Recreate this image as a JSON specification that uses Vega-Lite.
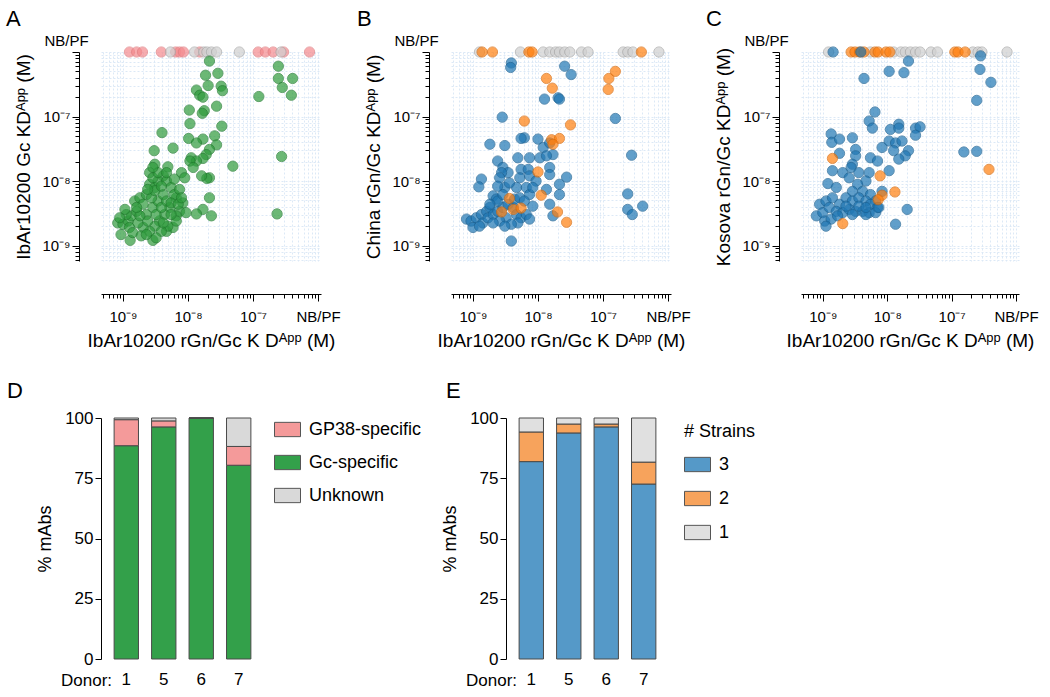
{
"$schema": "https://vega.github.io/schema/vega-lite/v6.json",
"padding": {"left": 6, "top": 8, "right": 5, "bottom": 5},
"background": "white",
"config": {
  "font": "Liberation Sans",
  "view": {"stroke": null},
  "axis": {"labelFont": "Liberation Sans", "titleFont": "Liberation Sans", "labelColor": "#000", "titleColor": "#000", "domainColor": "#000", "tickColor": "#000", "titleFontWeight": "normal", "domainWidth": 1, "tickWidth": 1},
  "title": {"font": "Liberation Sans", "fontWeight": "normal", "fontSize": 22, "color": "#000"},
  "legend": {"labelFont": "Liberation Sans", "titleFont": "Liberation Sans", "labelColor": "#000", "titleColor": "#000"}
},
"datasets": {
  "A": [
    {"x":-8.90,"y":-6,"g":"P"},{"x":-8.79,"y":-6,"g":"P"},{"x":-8.70,"y":-6,"g":"P"},{"x":-8.41,"y":-6,"g":"P"},{"x":-8.19,"y":-6,"g":"P"},{"x":-8.13,"y":-6,"g":"P"},{"x":-8.07,"y":-6,"g":"P"},{"x":-7.82,"y":-6,"g":"P"},{"x":-6.92,"y":-6,"g":"P"},{"x":-6.81,"y":-6,"g":"P"},{"x":-6.69,"y":-6,"g":"P"},{"x":-6.53,"y":-6,"g":"P"},{"x":-6.13,"y":-6,"g":"P"},
    {"x":-8.27,"y":-6,"g":"N"},{"x":-7.90,"y":-6,"g":"N"},{"x":-7.76,"y":-6,"g":"N"},{"x":-7.71,"y":-6,"g":"N"},{"x":-7.64,"y":-6,"g":"N"},{"x":-7.56,"y":-6,"g":"N"},{"x":-7.21,"y":-6,"g":"N"},{"x":-6.57,"y":-6,"g":"N"},
    {"x":-7.67,"y":-6.14,"g":"G"},{"x":-6.61,"y":-6.22,"g":"G"},{"x":-7.73,"y":-6.36,"g":"G"},{"x":-7.54,"y":-6.33,"g":"G"},{"x":-6.61,"y":-6.41,"g":"G"},{"x":-6.39,"y":-6.41,"g":"G"},{"x":-7.69,"y":-6.52,"g":"G"},{"x":-7.49,"y":-6.53,"g":"G"},{"x":-7.87,"y":-6.59,"g":"G"},{"x":-7.47,"y":-6.60,"g":"G"},{"x":-7.82,"y":-6.67,"g":"G"},{"x":-7.77,"y":-6.70,"g":"G"},{"x":-6.55,"y":-6.55,"g":"G"},{"x":-6.41,"y":-6.67,"g":"G"},{"x":-6.91,"y":-6.69,"g":"G"},{"x":-7.56,"y":-6.84,"g":"G"},{"x":-7.98,"y":-6.90,"g":"G"},{"x":-7.75,"y":-6.91,"g":"G"},{"x":-7.78,"y":-6.95,"g":"G"},{"x":-7.97,"y":-7.11,"g":"G"},{"x":-7.48,"y":-7.15,"g":"G"},{"x":-8.40,"y":-7.25,"g":"G"},{"x":-7.59,"y":-7.30,"g":"G"},{"x":-7.99,"y":-7.34,"g":"G"},{"x":-7.77,"y":-7.35,"g":"G"},{"x":-7.87,"y":-7.41,"g":"G"},{"x":-7.56,"y":-7.44,"g":"G"},{"x":-8.23,"y":-7.49,"g":"G"},{"x":-8.52,"y":-7.53,"g":"G"},{"x":-7.67,"y":-7.51,"g":"G"},{"x":-7.72,"y":-7.59,"g":"G"},{"x":-7.95,"y":-7.64,"g":"G"},{"x":-7.77,"y":-7.65,"g":"G"},{"x":-7.87,"y":-7.69,"g":"G"},{"x":-7.97,"y":-7.69,"g":"G"},{"x":-6.56,"y":-7.62,"g":"G"},{"x":-7.31,"y":-7.77,"g":"G"},{"x":-7.92,"y":-7.79,"g":"G"},{"x":-8.31,"y":-7.78,"g":"G"},{"x":-8.51,"y":-7.74,"g":"G"},{"x":-8.10,"y":-7.87,"g":"G"},{"x":-7.67,"y":-7.95,"g":"G"},{"x":-7.71,"y":-7.96,"g":"G"},{"x":-7.79,"y":-7.92,"g":"G"},{"x":-8.38,"y":-7.92,"g":"G"},{"x":-8.59,"y":-7.87,"g":"G"},{"x":-7.67,"y":-8.26,"g":"G"},{"x":-8.18,"y":-8.26,"g":"G"},{"x":-7.77,"y":-8.44,"g":"G"},{"x":-7.87,"y":-8.51,"g":"G"},{"x":-7.64,"y":-8.54,"g":"G"},{"x":-6.63,"y":-8.51,"g":"G"},
    {"x":-9.08,"y":-8.65,"g":"G"},{"x":-9.00,"y":-8.67,"g":"G"},{"x":-8.92,"y":-8.62,"g":"G"},{"x":-8.87,"y":-8.54,"g":"G"},{"x":-8.79,"y":-8.47,"g":"G"},{"x":-8.82,"y":-8.31,"g":"G"},{"x":-8.74,"y":-8.26,"g":"G"},{"x":-8.64,"y":-8.21,"g":"G"},{"x":-8.59,"y":-8.05,"g":"G"},{"x":-8.51,"y":-8.10,"g":"G"},{"x":-8.46,"y":-8.00,"g":"G"},{"x":-8.54,"y":-7.95,"g":"G"},{"x":-8.33,"y":-8.00,"g":"G"},{"x":-8.26,"y":-8.10,"g":"G"},{"x":-8.21,"y":-8.21,"g":"G"},{"x":-8.13,"y":-8.13,"g":"G"},{"x":-8.05,"y":-7.95,"g":"G"},{"x":-8.08,"y":-8.34,"g":"G"},{"x":-8.13,"y":-8.47,"g":"G"},{"x":-8.03,"y":-8.49,"g":"G"},{"x":-8.18,"y":-8.54,"g":"G"},{"x":-8.28,"y":-8.41,"g":"G"},{"x":-8.36,"y":-8.52,"g":"G"},{"x":-8.44,"y":-8.62,"g":"G"},{"x":-8.51,"y":-8.70,"g":"G"},{"x":-8.59,"y":-8.78,"g":"G"},{"x":-8.69,"y":-8.72,"g":"G"},{"x":-8.77,"y":-8.65,"g":"G"},{"x":-8.90,"y":-8.72,"g":"G"},{"x":-9.03,"y":-8.83,"g":"G"},{"x":-8.89,"y":-8.92,"g":"G"},{"x":-8.54,"y":-8.92,"g":"G"},{"x":-8.33,"y":-8.78,"g":"G"},{"x":-8.23,"y":-8.72,"g":"G"},{"x":-8.64,"y":-8.52,"g":"G"},{"x":-8.54,"y":-8.41,"g":"G"},{"x":-8.46,"y":-8.31,"g":"G"},{"x":-8.38,"y":-8.21,"g":"G"},{"x":-8.69,"y":-8.36,"g":"G"},{"x":-8.95,"y":-8.52,"g":"G"},{"x":-9.05,"y":-8.57,"g":"G"},{"x":-8.85,"y":-8.80,"g":"G"},{"x":-8.72,"y":-8.85,"g":"G"},{"x":-8.62,"y":-8.62,"g":"G"},{"x":-8.49,"y":-8.52,"g":"G"},{"x":-8.41,"y":-8.41,"g":"G"},{"x":-8.33,"y":-8.31,"g":"G"},{"x":-8.26,"y":-8.34,"g":"G"},{"x":-8.15,"y":-8.36,"g":"G"},{"x":-8.56,"y":-8.26,"g":"G"},{"x":-8.51,"y":-8.15,"g":"G"},{"x":-8.62,"y":-8.13,"g":"G"},{"x":-8.46,"y":-7.87,"g":"G"},{"x":-8.54,"y":-7.79,"g":"G"},{"x":-8.31,"y":-8.70,"g":"G"},{"x":-8.41,"y":-8.78,"g":"G"},{"x":-8.74,"y":-8.54,"g":"G"},{"x":-8.97,"y":-8.44,"g":"G"},{"x":-8.79,"y":-8.41,"g":"G"},{"x":-8.41,"y":-8.08,"g":"G"},{"x":-8.33,"y":-7.87,"g":"G"},{"x":-8.21,"y":-7.97,"g":"G"},{"x":-8.10,"y":-8.26,"g":"G"},{"x":-8.38,"y":-8.65,"g":"G"},{"x":-8.49,"y":-8.88,"g":"G"},{"x":-8.18,"y":-8.62,"g":"G"},{"x":-8.26,"y":-8.52,"g":"G"},{"x":-8.64,"y":-8.83,"g":"G"}
  ],
  "B": [
    {"x":-8.90,"y":-6,"g":"N"},{"x":-8.27,"y":-6,"g":"N"},{"x":-7.92,"y":-6,"g":"N"},{"x":-7.82,"y":-6,"g":"N"},{"x":-7.73,"y":-6,"g":"N"},{"x":-7.67,"y":-6,"g":"N"},{"x":-7.59,"y":-6,"g":"N"},{"x":-7.51,"y":-6,"g":"N"},{"x":-7.33,"y":-6,"g":"N"},{"x":-7.23,"y":-6,"g":"N"},{"x":-6.69,"y":-6,"g":"N"},{"x":-6.62,"y":-6,"g":"N"},{"x":-6.54,"y":-6,"g":"N"},{"x":-6.14,"y":-6,"g":"N"},
    {"x":-8.86,"y":-6,"g":"O"},{"x":-8.70,"y":-6,"g":"O"},{"x":-8.14,"y":-6,"g":"O"},{"x":-8.09,"y":-6,"g":"O"},{"x":-6.41,"y":-6,"g":"O"},
    {"x":-8.41,"y":-6.17,"g":"B"},{"x":-8.42,"y":-6.24,"g":"B"},{"x":-7.59,"y":-6.22,"g":"B"},{"x":-7.49,"y":-6.35,"g":"B"},{"x":-7.90,"y":-6.73,"g":"B"},{"x":-7.69,"y":-6.71,"g":"B"},{"x":-7.67,"y":-6.73,"g":"B"},{"x":-8.55,"y":-7.01,"g":"B"},{"x":-6.81,"y":-7.03,"g":"B"},{"x":-8.21,"y":-7.33,"g":"B"},{"x":-8.26,"y":-7.34,"g":"B"},{"x":-8.74,"y":-7.43,"g":"B"},{"x":-8.51,"y":-7.45,"g":"B"},{"x":-8.00,"y":-7.35,"g":"B"},{"x":-7.92,"y":-7.48,"g":"B"},{"x":-7.82,"y":-7.41,"g":"B"},{"x":-7.77,"y":-7.59,"g":"B"},{"x":-6.56,"y":-7.60,"g":"B"},{"x":-8.31,"y":-7.64,"g":"B"},{"x":-8.13,"y":-7.64,"g":"B"},{"x":-7.97,"y":-7.64,"g":"B"},{"x":-7.87,"y":-7.61,"g":"B"},{"x":-8.62,"y":-7.69,"g":"B"},{"x":-8.54,"y":-7.79,"g":"B"},{"x":-8.46,"y":-7.87,"g":"B"},{"x":-8.56,"y":-7.87,"g":"B"},{"x":-8.26,"y":-7.82,"g":"B"},{"x":-8.15,"y":-7.82,"g":"B"},{"x":-7.82,"y":-7.79,"g":"B"},{"x":-7.82,"y":-7.90,"g":"B"},{"x":-7.56,"y":-7.94,"g":"B"},{"x":-8.87,"y":-7.97,"g":"B"},{"x":-8.91,"y":-8.09,"g":"B"},{"x":-8.59,"y":-7.95,"g":"B"},{"x":-8.28,"y":-7.95,"g":"B"},{"x":-8.13,"y":-7.92,"g":"B"},{"x":-7.67,"y":-8.05,"g":"B"},{"x":-8.51,"y":-8.10,"g":"B"},{"x":-8.33,"y":-8.10,"g":"B"},{"x":-8.18,"y":-8.10,"g":"B"},{"x":-7.87,"y":-8.13,"g":"B"},{"x":-7.67,"y":-8.21,"g":"B"},{"x":-8.13,"y":-8.21,"g":"B"},{"x":-8.69,"y":-8.23,"g":"B"},{"x":-8.64,"y":-8.28,"g":"B"},{"x":-6.62,"y":-8.20,"g":"B"},{"x":-7.82,"y":-8.36,"g":"B"},{"x":-7.77,"y":-8.54,"g":"B"},{"x":-6.62,"y":-8.44,"g":"B"},{"x":-6.55,"y":-8.52,"g":"B"},{"x":-6.39,"y":-8.39,"g":"B"},{"x":-8.41,"y":-8.93,"g":"B"},{"x":-9.10,"y":-8.59,"g":"B"},{"x":-9.03,"y":-8.62,"g":"B"},{"x":-8.95,"y":-8.57,"g":"B"},{"x":-8.87,"y":-8.52,"g":"B"},{"x":-8.79,"y":-8.47,"g":"B"},{"x":-8.74,"y":-8.41,"g":"B"},{"x":-8.85,"y":-8.65,"g":"B"},{"x":-9.00,"y":-8.72,"g":"B"},{"x":-8.90,"y":-8.70,"g":"B"},{"x":-8.77,"y":-8.57,"g":"B"},{"x":-8.69,"y":-8.52,"g":"B"},{"x":-8.62,"y":-8.47,"g":"B"},{"x":-8.54,"y":-8.41,"g":"B"},{"x":-8.46,"y":-8.36,"g":"B"},{"x":-8.38,"y":-8.41,"g":"B"},{"x":-8.33,"y":-8.52,"g":"B"},{"x":-8.26,"y":-8.57,"g":"B"},{"x":-8.18,"y":-8.52,"g":"B"},{"x":-8.13,"y":-8.59,"g":"B"},{"x":-8.08,"y":-8.39,"g":"B"},{"x":-8.49,"y":-8.57,"g":"B"},{"x":-8.59,"y":-8.62,"g":"B"},{"x":-8.69,"y":-8.65,"g":"B"},{"x":-8.31,"y":-8.65,"g":"B"},{"x":-8.41,"y":-8.67,"g":"B"},{"x":-8.51,"y":-8.70,"g":"B"},{"x":-8.62,"y":-8.31,"g":"B"},{"x":-8.54,"y":-8.21,"g":"B"},{"x":-8.36,"y":-8.28,"g":"B"},{"x":-8.28,"y":-8.26,"g":"B"},{"x":-8.21,"y":-8.31,"g":"B"},{"x":-8.03,"y":-8.00,"g":"B"},{"x":-8.08,"y":-8.10,"g":"B"},{"x":-8.74,"y":-8.36,"g":"B"},{"x":-8.44,"y":-8.03,"g":"B"},{"x":-8.62,"y":-8.08,"g":"B"},
    {"x":-7.87,"y":-6.41,"g":"O"},{"x":-7.78,"y":-6.56,"g":"O"},{"x":-6.81,"y":-6.30,"g":"O"},{"x":-6.91,"y":-6.41,"g":"O"},{"x":-6.92,"y":-6.58,"g":"O"},{"x":-8.21,"y":-7.07,"g":"O"},{"x":-7.50,"y":-7.13,"g":"O"},{"x":-7.79,"y":-7.36,"g":"O"},{"x":-7.67,"y":-7.34,"g":"O"},{"x":-7.77,"y":-7.43,"g":"O"},{"x":-8.00,"y":-7.86,"g":"O"},{"x":-7.95,"y":-8.22,"g":"O"},{"x":-8.44,"y":-8.27,"g":"O"},{"x":-8.56,"y":-8.48,"g":"O"},{"x":-8.38,"y":-8.44,"g":"O"},{"x":-8.26,"y":-8.42,"g":"O"},{"x":-7.70,"y":-8.48,"g":"O"},{"x":-7.56,"y":-8.64,"g":"O"}
  ],
  "C": [
    {"x":-8.91,"y":-6,"g":"N"},{"x":-8.26,"y":-6,"g":"N"},{"x":-7.90,"y":-6,"g":"N"},{"x":-7.79,"y":-6,"g":"N"},{"x":-7.72,"y":-6,"g":"N"},{"x":-7.64,"y":-6,"g":"N"},{"x":-7.56,"y":-6,"g":"N"},{"x":-7.49,"y":-6,"g":"N"},{"x":-7.32,"y":-6,"g":"N"},{"x":-7.22,"y":-6,"g":"N"},{"x":-6.67,"y":-6,"g":"N"},{"x":-6.59,"y":-6,"g":"N"},{"x":-6.53,"y":-6,"g":"N"},{"x":-6.14,"y":-6,"g":"N"},
    {"x":-8.56,"y":-6,"g":"O"},{"x":-8.50,"y":-6,"g":"O"},{"x":-8.43,"y":-6,"g":"O"},{"x":-8.36,"y":-6,"g":"O"},{"x":-8.19,"y":-6,"g":"O"},{"x":-8.14,"y":-6,"g":"O"},{"x":-8.02,"y":-6,"g":"O"},{"x":-7.96,"y":-6,"g":"O"},{"x":-6.95,"y":-6,"g":"O"},{"x":-6.90,"y":-6,"g":"O"},{"x":-6.79,"y":-6,"g":"O"},
    {"x":-8.84,"y":-6,"g":"B"},{"x":-8.41,"y":-6,"g":"B"},
    {"x":-7.67,"y":-6.14,"g":"B"},{"x":-6.55,"y":-6.06,"g":"B"},{"x":-7.97,"y":-6.30,"g":"B"},{"x":-7.74,"y":-6.32,"g":"B"},{"x":-8.36,"y":-6.41,"g":"B"},{"x":-6.56,"y":-6.27,"g":"B"},{"x":-6.39,"y":-6.47,"g":"B"},{"x":-6.61,"y":-6.75,"g":"B"},{"x":-8.19,"y":-6.93,"g":"B"},{"x":-8.28,"y":-7.07,"g":"B"},{"x":-8.23,"y":-7.18,"g":"B"},{"x":-7.82,"y":-7.12,"g":"B"},{"x":-7.95,"y":-7.20,"g":"B"},{"x":-7.82,"y":-7.18,"g":"B"},{"x":-7.56,"y":-7.18,"g":"B"},{"x":-7.49,"y":-7.16,"g":"B"},{"x":-7.56,"y":-7.29,"g":"B"},{"x":-8.87,"y":-7.27,"g":"B"},{"x":-8.86,"y":-7.40,"g":"B"},{"x":-8.74,"y":-7.35,"g":"B"},{"x":-8.54,"y":-7.33,"g":"B"},{"x":-8.08,"y":-7.48,"g":"B"},{"x":-7.97,"y":-7.38,"g":"B"},{"x":-7.87,"y":-7.41,"g":"B"},{"x":-7.77,"y":-7.38,"g":"B"},{"x":-7.90,"y":-7.53,"g":"B"},{"x":-7.67,"y":-7.53,"g":"B"},{"x":-7.72,"y":-7.61,"g":"B"},{"x":-7.82,"y":-7.66,"g":"B"},{"x":-6.81,"y":-7.55,"g":"B"},{"x":-6.61,"y":-7.54,"g":"B"},{"x":-8.74,"y":-7.57,"g":"B"},{"x":-8.49,"y":-7.51,"g":"B"},{"x":-8.49,"y":-7.61,"g":"B"},{"x":-8.26,"y":-7.64,"g":"B"},{"x":-8.15,"y":-7.69,"g":"B"},{"x":-8.54,"y":-7.74,"g":"B"},{"x":-7.97,"y":-7.84,"g":"B"},{"x":-8.85,"y":-7.84,"g":"B"},{"x":-8.69,"y":-7.87,"g":"B"},{"x":-8.56,"y":-7.79,"g":"B"},{"x":-8.44,"y":-7.87,"g":"B"},{"x":-8.28,"y":-7.87,"g":"B"},{"x":-8.92,"y":-8.04,"g":"B"},{"x":-8.79,"y":-8.10,"g":"B"},{"x":-8.59,"y":-7.95,"g":"B"},{"x":-8.33,"y":-8.00,"g":"B"},{"x":-8.46,"y":-8.05,"g":"B"},{"x":-8.54,"y":-8.16,"g":"B"},{"x":-8.38,"y":-8.16,"g":"B"},{"x":-8.26,"y":-8.21,"g":"B"},{"x":-8.08,"y":-8.16,"g":"B"},{"x":-8.18,"y":-8.31,"g":"B"},{"x":-9.05,"y":-8.36,"g":"B"},{"x":-8.95,"y":-8.31,"g":"B"},{"x":-8.85,"y":-8.26,"g":"B"},{"x":-8.74,"y":-8.36,"g":"B"},{"x":-8.64,"y":-8.26,"g":"B"},{"x":-8.54,"y":-8.31,"g":"B"},{"x":-8.44,"y":-8.26,"g":"B"},{"x":-8.33,"y":-8.31,"g":"B"},{"x":-8.26,"y":-8.36,"g":"B"},{"x":-8.15,"y":-8.41,"g":"B"},{"x":-9.10,"y":-8.54,"g":"B"},{"x":-9.00,"y":-8.49,"g":"B"},{"x":-8.90,"y":-8.41,"g":"B"},{"x":-8.79,"y":-8.47,"g":"B"},{"x":-8.69,"y":-8.49,"g":"B"},{"x":-8.59,"y":-8.44,"g":"B"},{"x":-8.49,"y":-8.47,"g":"B"},{"x":-8.38,"y":-8.47,"g":"B"},{"x":-8.28,"y":-8.49,"g":"B"},{"x":-8.18,"y":-8.49,"g":"B"},{"x":-8.97,"y":-8.62,"g":"B"},{"x":-8.87,"y":-8.59,"g":"B"},{"x":-8.95,"y":-8.70,"g":"B"},{"x":-8.77,"y":-8.54,"g":"B"},{"x":-8.54,"y":-8.52,"g":"B"},{"x":-8.33,"y":-8.52,"g":"B"},{"x":-7.69,"y":-8.44,"g":"B"},{"x":-7.87,"y":-8.67,"g":"B"},{"x":-8.64,"y":-8.39,"g":"B"},{"x":-8.44,"y":-8.39,"g":"B"},{"x":-8.33,"y":-8.41,"g":"B"},{"x":-8.13,"y":-8.41,"g":"B"},
    {"x":-8.85,"y":-7.65,"g":"O"},{"x":-8.11,"y":-7.92,"g":"O"},{"x":-7.88,"y":-8.17,"g":"O"},{"x":-8.08,"y":-8.22,"g":"O"},{"x":-8.14,"y":-8.29,"g":"O"},{"x":-8.69,"y":-8.66,"g":"O"},{"x":-6.42,"y":-7.82,"g":"O"}
  ],
  "D": [
    {"donor":"1","spec":"Gc-specific","pct":88.5,"ord":1},{"donor":"1","spec":"GP38-specific","pct":10.8,"ord":2},{"donor":"1","spec":"Unknown","pct":0.7,"ord":3},
    {"donor":"5","spec":"Gc-specific","pct":96.3,"ord":1},{"donor":"5","spec":"GP38-specific","pct":2.5,"ord":2},{"donor":"5","spec":"Unknown","pct":1.2,"ord":3},
    {"donor":"6","spec":"Gc-specific","pct":100,"ord":1},{"donor":"6","spec":"GP38-specific","pct":0,"ord":2},{"donor":"6","spec":"Unknown","pct":0,"ord":3},
    {"donor":"7","spec":"Gc-specific","pct":80.4,"ord":1},{"donor":"7","spec":"GP38-specific","pct":7.8,"ord":2},{"donor":"7","spec":"Unknown","pct":11.8,"ord":3}
  ],
  "E": [
    {"donor":"1","strains":"3","pct":81.9,"ord":1},{"donor":"1","strains":"2","pct":12.3,"ord":2},{"donor":"1","strains":"1","pct":5.8,"ord":3},
    {"donor":"5","strains":"3","pct":93.8,"ord":1},{"donor":"5","strains":"2","pct":3.7,"ord":2},{"donor":"5","strains":"1","pct":2.5,"ord":3},
    {"donor":"6","strains":"3","pct":96.3,"ord":1},{"donor":"6","strains":"2","pct":1.2,"ord":2},{"donor":"6","strains":"1","pct":2.5,"ord":3},
    {"donor":"7","strains":"3","pct":72.6,"ord":1},{"donor":"7","strains":"2","pct":9.1,"ord":2},{"donor":"7","strains":"1","pct":18.3,"ord":3}
  ]
},
"vconcat": [
  {
    "hconcat": [
      {
        "width": 220, "height": 209,
        "data": {"name": "A"},
        "title": {"text": "A", "anchor": "start", "frame": "group", "dx": -95, "offset": 2},
        "mark": {"type": "circle", "size": 105, "opacity": 0.7, "strokeWidth": 1},
        "encoding": {
          "x": {"field": "x", "type": "quantitative", "scale": {"domain": [-9.338, -5.954], "nice": false, "zero": false},
            "axis": {"title": "IbAr10200 rGn/Gc K Dᴬᵖᵖ (M)", "titleFontSize": 19, "titlePadding": 7, "offset": 33,
              "values": [-9.301,-9.222,-9.155,-9.097,-9.046,-9,-8.699,-8.523,-8.398,-8.301,-8.222,-8.155,-8.097,-8.046,-8,-7.699,-7.523,-7.398,-7.301,-7.222,-7.155,-7.097,-7.046,-7,-6.699,-6.523,-6.398,-6.301,-6.222,-6.155,-6.097,-6.046,-6],
              "grid": true, "gridColor": "#dce9f6", "gridDash": [2, 2],
              "tickSize": {"condition": {"test": "datum.value == round(datum.value)", "value": 7}, "value": 4},
              "labelExpr": "datum.value == -9 ? '10⁻⁹' : datum.value == -8 ? '10⁻⁸' : datum.value == -7 ? '10⁻⁷' : datum.value == -6 ? 'NB/PF' : ''",
              "labelFontSize": 15, "labelPadding": 8, "labelOverlap": false, "labelFlush": false}},
          "y": {"field": "y", "type": "quantitative", "scale": {"domain": [-9.24, -6], "nice": false, "zero": false},
            "axis": {"title": "IbAr10200 Gc KDᴬᵖᵖ (M)", "titleFontSize": 19, "titlePadding": 8, "offset": 22,
              "values": [-9.222,-9.155,-9.097,-9.046,-9,-8.699,-8.523,-8.398,-8.301,-8.222,-8.155,-8.097,-8.046,-8,-7.699,-7.523,-7.398,-7.301,-7.222,-7.155,-7.097,-7.046,-7,-6.699,-6.523,-6.398,-6.301,-6.222,-6.155,-6.097,-6.046,-6],
              "grid": true, "gridColor": "#dce9f6", "gridDash": [2, 2],
              "tickSize": {"condition": {"test": "datum.value == round(datum.value)", "value": 7}, "value": 4},
              "labelExpr": "datum.value == -9 ? '10⁻⁹' : datum.value == -8 ? '10⁻⁸' : datum.value == -7 ? '10⁻⁷' : datum.value == -6 ? 'NB/PF' : ''",
              "labelAlign": {"condition": {"test": "datum.value == -6", "value": "center"}, "value": "right"},
              "labelBaseline": {"condition": {"test": "datum.value == -6", "value": "bottom"}, "value": "middle"},
              "labelOffset": {"condition": {"test": "datum.value == -6", "value": -4}, "value": 0},
              "labelPadding": {"condition": {"test": "datum.value == -6", "value": 6}, "value": 2},
              "labelFontSize": 15, "labelOverlap": false, "labelFlush": false}},
          "fill": {"field": "g", "type": "nominal", "scale": {"domain": ["G", "P", "N"], "range": ["#2e9b3c", "#f48a8e", "#d0d0d0"]}, "legend": null},
          "stroke": {"field": "g", "type": "nominal", "scale": {"domain": ["G", "P", "N"], "range": ["#1f7a2c", "#e07a7e", "#a8a8a8"]}, "legend": null}
        }
      },
      {
        "width": 220, "height": 209,
        "data": {"name": "B"},
        "title": {"text": "B", "anchor": "start", "frame": "group", "dx": -94, "offset": 2},
        "mark": {"type": "circle", "size": 105, "opacity": 0.7, "strokeWidth": 1},
        "encoding": {
          "x": {"field": "x", "type": "quantitative", "scale": {"domain": [-9.338, -5.954], "nice": false, "zero": false},
            "axis": {"title": "IbAr10200 rGn/Gc K Dᴬᵖᵖ (M)", "titleFontSize": 19, "titlePadding": 7, "offset": 33,
              "values": [-9.301,-9.222,-9.155,-9.097,-9.046,-9,-8.699,-8.523,-8.398,-8.301,-8.222,-8.155,-8.097,-8.046,-8,-7.699,-7.523,-7.398,-7.301,-7.222,-7.155,-7.097,-7.046,-7,-6.699,-6.523,-6.398,-6.301,-6.222,-6.155,-6.097,-6.046,-6],
              "grid": true, "gridColor": "#dce9f6", "gridDash": [2, 2],
              "tickSize": {"condition": {"test": "datum.value == round(datum.value)", "value": 7}, "value": 4},
              "labelExpr": "datum.value == -9 ? '10⁻⁹' : datum.value == -8 ? '10⁻⁸' : datum.value == -7 ? '10⁻⁷' : datum.value == -6 ? 'NB/PF' : ''",
              "labelFontSize": 15, "labelPadding": 8, "labelOverlap": false, "labelFlush": false}},
          "y": {"field": "y", "type": "quantitative", "scale": {"domain": [-9.24, -6], "nice": false, "zero": false},
            "axis": {"title": "China rGn/Gc KDᴬᵖᵖ (M)", "titleFontSize": 19, "titlePadding": 8, "offset": 22,
              "values": [-9.222,-9.155,-9.097,-9.046,-9,-8.699,-8.523,-8.398,-8.301,-8.222,-8.155,-8.097,-8.046,-8,-7.699,-7.523,-7.398,-7.301,-7.222,-7.155,-7.097,-7.046,-7,-6.699,-6.523,-6.398,-6.301,-6.222,-6.155,-6.097,-6.046,-6],
              "grid": true, "gridColor": "#dce9f6", "gridDash": [2, 2],
              "tickSize": {"condition": {"test": "datum.value == round(datum.value)", "value": 7}, "value": 4},
              "labelExpr": "datum.value == -9 ? '10⁻⁹' : datum.value == -8 ? '10⁻⁸' : datum.value == -7 ? '10⁻⁷' : datum.value == -6 ? 'NB/PF' : ''",
              "labelAlign": {"condition": {"test": "datum.value == -6", "value": "center"}, "value": "right"},
              "labelBaseline": {"condition": {"test": "datum.value == -6", "value": "bottom"}, "value": "middle"},
              "labelOffset": {"condition": {"test": "datum.value == -6", "value": -4}, "value": 0},
              "labelPadding": {"condition": {"test": "datum.value == -6", "value": 6}, "value": 2},
              "labelFontSize": 15, "labelOverlap": false, "labelFlush": false}},
          "fill": {"field": "g", "type": "nominal", "scale": {"domain": ["B", "O", "N"], "range": ["#1f77b4", "#ff7f0e", "#d0d0d0"]}, "legend": null},
          "stroke": {"field": "g", "type": "nominal", "scale": {"domain": ["B", "O", "N"], "range": ["#185f91", "#d96a0a", "#a8a8a8"]}, "legend": null}
        }
      },
      {
        "width": 218, "height": 209,
        "data": {"name": "C"},
        "title": {"text": "C", "anchor": "start", "frame": "group", "dx": -95, "offset": 2},
        "mark": {"type": "circle", "size": 105, "opacity": 0.7, "strokeWidth": 1},
        "encoding": {
          "x": {"field": "x", "type": "quantitative", "scale": {"domain": [-9.338, -5.954], "nice": false, "zero": false},
            "axis": {"title": "IbAr10200 rGn/Gc K Dᴬᵖᵖ (M)", "titleFontSize": 19, "titlePadding": 7, "offset": 33,
              "values": [-9.301,-9.222,-9.155,-9.097,-9.046,-9,-8.699,-8.523,-8.398,-8.301,-8.222,-8.155,-8.097,-8.046,-8,-7.699,-7.523,-7.398,-7.301,-7.222,-7.155,-7.097,-7.046,-7,-6.699,-6.523,-6.398,-6.301,-6.222,-6.155,-6.097,-6.046,-6],
              "grid": true, "gridColor": "#dce9f6", "gridDash": [2, 2],
              "tickSize": {"condition": {"test": "datum.value == round(datum.value)", "value": 7}, "value": 4},
              "labelExpr": "datum.value == -9 ? '10⁻⁹' : datum.value == -8 ? '10⁻⁸' : datum.value == -7 ? '10⁻⁷' : datum.value == -6 ? 'NB/PF' : ''",
              "labelFontSize": 15, "labelPadding": 8, "labelOverlap": false, "labelFlush": false}},
          "y": {"field": "y", "type": "quantitative", "scale": {"domain": [-9.24, -6], "nice": false, "zero": false},
            "axis": {"title": "Kosova rGn/Gc KDᴬᵖᵖ (M)", "titleFontSize": 19, "titlePadding": 8, "offset": 22,
              "values": [-9.222,-9.155,-9.097,-9.046,-9,-8.699,-8.523,-8.398,-8.301,-8.222,-8.155,-8.097,-8.046,-8,-7.699,-7.523,-7.398,-7.301,-7.222,-7.155,-7.097,-7.046,-7,-6.699,-6.523,-6.398,-6.301,-6.222,-6.155,-6.097,-6.046,-6],
              "grid": true, "gridColor": "#dce9f6", "gridDash": [2, 2],
              "tickSize": {"condition": {"test": "datum.value == round(datum.value)", "value": 7}, "value": 4},
              "labelExpr": "datum.value == -9 ? '10⁻⁹' : datum.value == -8 ? '10⁻⁸' : datum.value == -7 ? '10⁻⁷' : datum.value == -6 ? 'NB/PF' : ''",
              "labelAlign": {"condition": {"test": "datum.value == -6", "value": "center"}, "value": "right"},
              "labelBaseline": {"condition": {"test": "datum.value == -6", "value": "bottom"}, "value": "middle"},
              "labelOffset": {"condition": {"test": "datum.value == -6", "value": -4}, "value": 0},
              "labelPadding": {"condition": {"test": "datum.value == -6", "value": 6}, "value": 2},
              "labelFontSize": 15, "labelOverlap": false, "labelFlush": false}},
          "fill": {"field": "g", "type": "nominal", "scale": {"domain": ["B", "O", "N"], "range": ["#1f77b4", "#ff7f0e", "#d0d0d0"]}, "legend": null},
          "stroke": {"field": "g", "type": "nominal", "scale": {"domain": ["B", "O", "N"], "range": ["#185f91", "#d96a0a", "#a8a8a8"]}, "legend": null}
        }
      }
    ],
    "spacing": 130,
    "bounds": "flush",
    "resolve": {"scale": {"fill": "independent", "stroke": "independent", "color": "independent"}}
  },
  {
    "hconcat": [
      {
        "width": 163, "height": 241,
        "data": {"name": "D"},
        "title": {"text": "D", "anchor": "start", "frame": "group", "dx": -94, "offset": 6},
        "mark": {"type": "bar", "stroke": "#4a4a4a", "strokeWidth": 1},
        "encoding": {
          "x": {"field": "donor", "type": "ordinal", "scale": {"paddingInner": 0.35, "paddingOuter": 0.35},
            "axis": {"title": "Donor:", "labelAngle": 0, "domain": false, "ticks": false, "labelPadding": 12, "labelFontSize": 17,
              "titleFontSize": 17, "titleX": -15, "titleY": 21, "titleAlign": "center", "titleBaseline": "middle"}},
          "y": {"field": "pct", "type": "quantitative", "stack": "zero", "scale": {"domain": [0, 100], "nice": false},
            "axis": {"title": "% mAbs", "values": [0, 25, 50, 75, 100], "grid": false, "tickSize": 6, "labelFontSize": 17, "labelPadding": 2, "titleFontSize": 18, "titlePadding": 10}},
          "color": {"field": "spec", "type": "nominal",
            "scale": {"domain": ["GP38-specific", "Gc-specific", "Unknown"], "range": ["#f49a9a", "#33a04a", "#d9d9d9"]},
            "legend": {"orient": "none", "legendX": 173, "legendY": -2, "title": null, "padding": 0,
              "symbolType": "M-1,-0.55H1V0.55H-1Z", "symbolSize": 676, "symbolStrokeColor": "#555", "symbolStrokeWidth": 1, "symbolOpacity": 1,
              "labelFontSize": 18, "labelOffset": 8, "rowPadding": 10}},
          "order": {"field": "ord", "type": "quantitative"}
        }
      },
      {
        "width": 163, "height": 241,
        "data": {"name": "E"},
        "title": {"text": "E", "anchor": "start", "frame": "group", "dx": -60, "offset": 6},
        "mark": {"type": "bar", "stroke": "#4a4a4a", "strokeWidth": 1},
        "encoding": {
          "x": {"field": "donor", "type": "ordinal", "scale": {"paddingInner": 0.35, "paddingOuter": 0.35},
            "axis": {"title": "Donor:", "labelAngle": 0, "domain": false, "ticks": false, "labelPadding": 12, "labelFontSize": 17,
              "titleFontSize": 17, "titleX": -15, "titleY": 21, "titleAlign": "center", "titleBaseline": "middle"}},
          "y": {"field": "pct", "type": "quantitative", "stack": "zero", "scale": {"domain": [0, 100], "nice": false},
            "axis": {"title": "% mAbs", "values": [0, 25, 50, 75, 100], "grid": false, "tickSize": 6, "labelFontSize": 17, "labelPadding": 2, "titleFontSize": 18, "titlePadding": 10}},
          "color": {"field": "strains", "type": "nominal",
            "scale": {"domain": ["3", "2", "1"], "range": ["#5599c8", "#f7a35c", "#e0e0e0"]},
            "legend": {"orient": "none", "legendX": 178, "legendY": 5, "title": "# Strains", "titleFontSize": 18, "titleFontWeight": "normal", "titlePadding": 10, "padding": 0,
              "symbolType": "M-1,-0.55H1V0.55H-1Z", "symbolSize": 676, "symbolStrokeColor": "#555", "symbolStrokeWidth": 1, "symbolOpacity": 1,
              "labelFontSize": 18, "labelOffset": 8, "rowPadding": 11}},
          "order": {"field": "ord", "type": "quantitative"}
        }
      }
    ],
    "spacing": 242,
    "bounds": "flush",
    "resolve": {"scale": {"color": "independent"}}
  }
],
"spacing": 366,
"bounds": "flush",
"resolve": {"scale": {"color": "independent", "fill": "independent", "stroke": "independent"}}
}
